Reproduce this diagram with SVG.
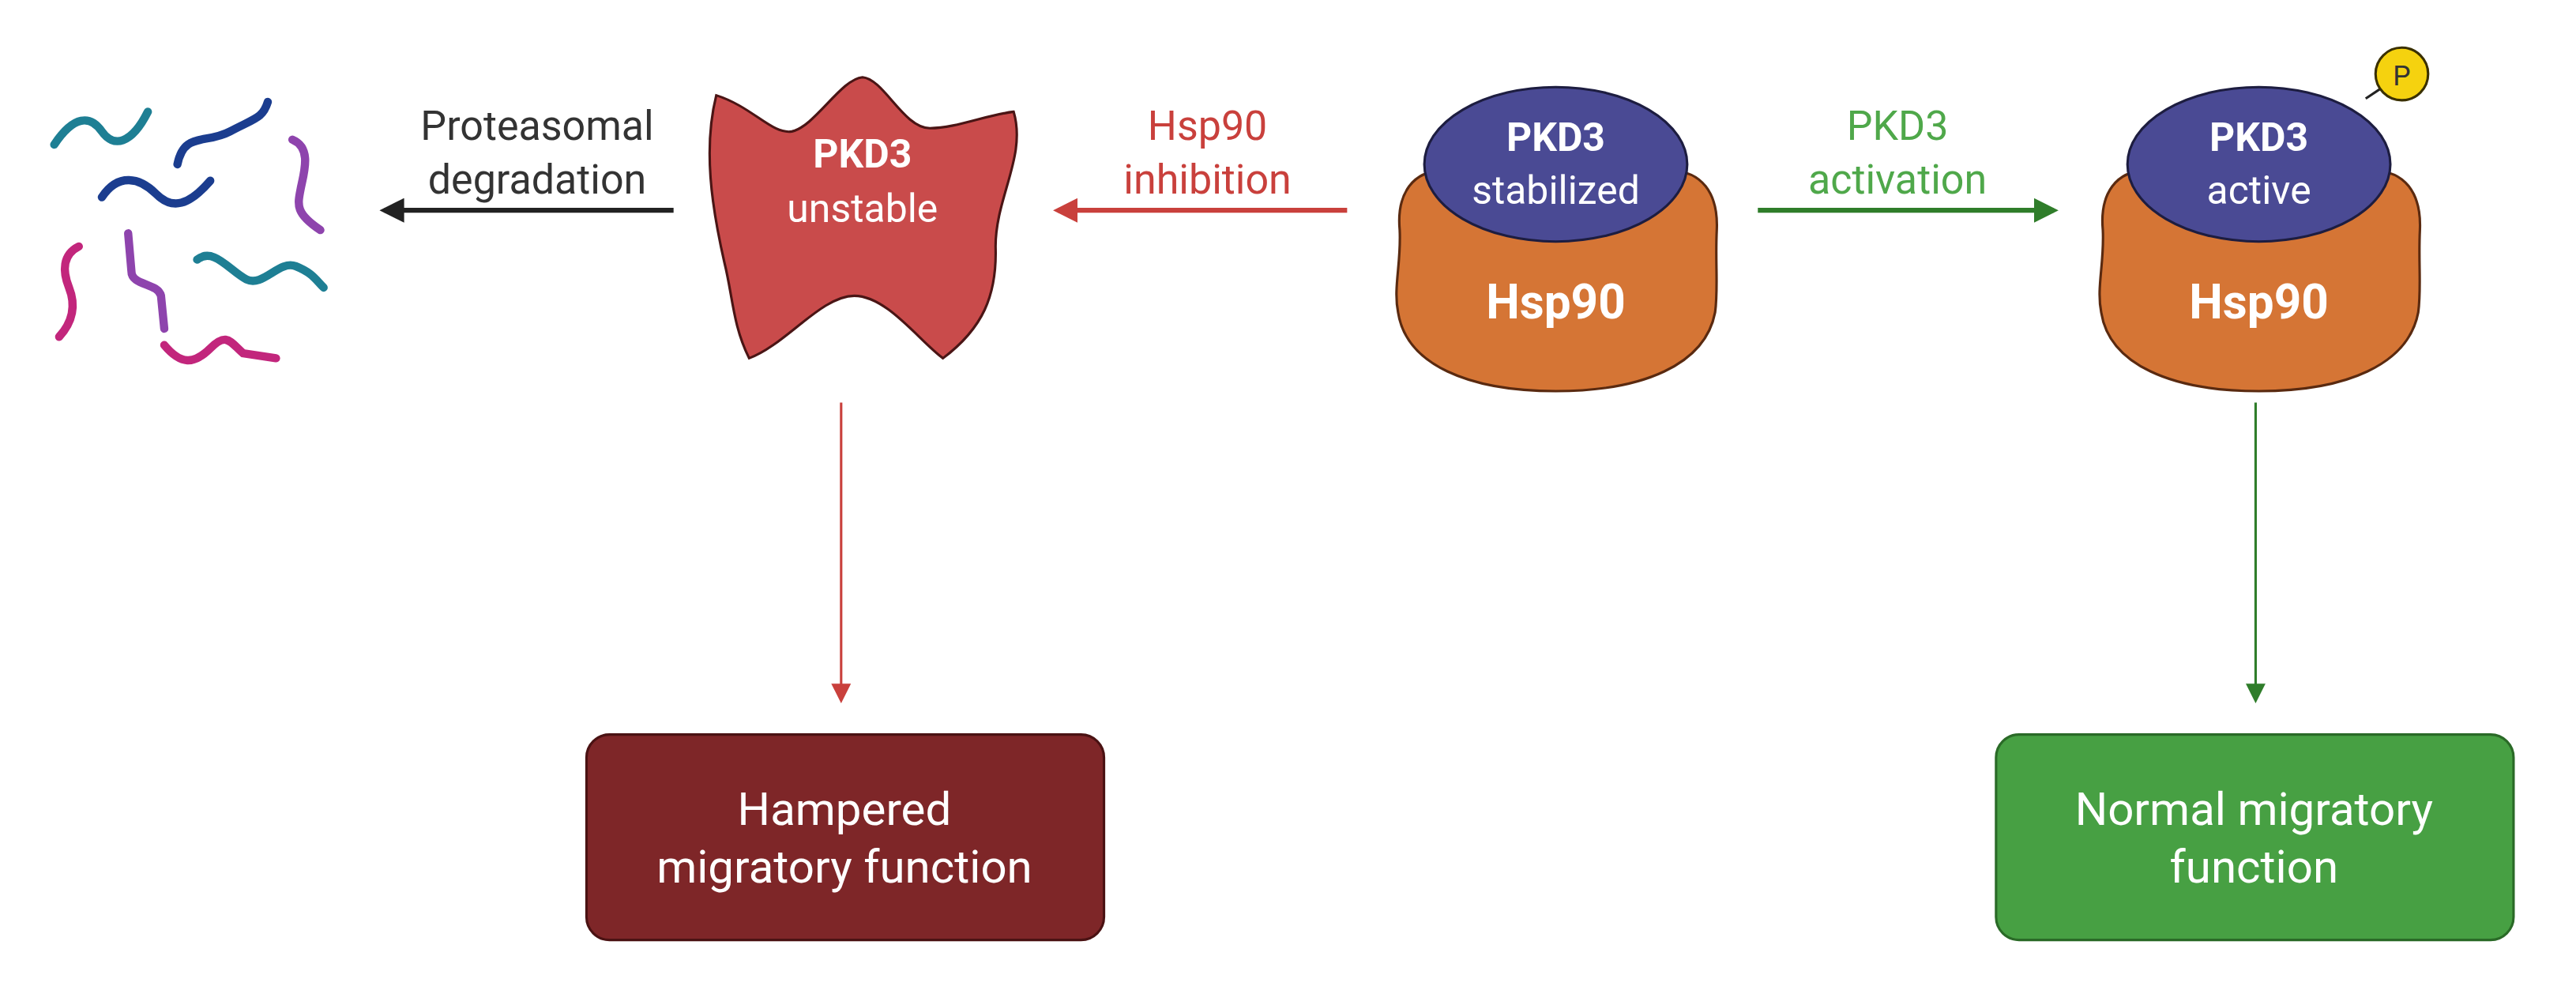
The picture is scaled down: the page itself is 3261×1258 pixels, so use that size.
<svg xmlns="http://www.w3.org/2000/svg" width="3261" height="1258" viewBox="0 0 3261 1258">
<defs>
<style>
text{font-family:Roboto,"Liberation Sans",sans-serif;text-anchor:middle}
.lbl{font-size:25px}
.w{fill:#fff}
.b{font-weight:bold}
.sq{fill:none;stroke-width:5;stroke-linecap:round}
.hsp{fill:#d57535;stroke:#5a2a10;stroke-width:1.5}
.pk{fill:#4a4a94;stroke:#1d1d40;stroke-width:1.5}
</style>
<marker id="ak" markerWidth="5" markerHeight="5" refX="4" refY="2.5" orient="auto" markerUnits="strokeWidth"><path d="M0,0L5,2.5L0,5z" fill="#222"/></marker>
<marker id="ar" markerWidth="5" markerHeight="5" refX="4" refY="2.5" orient="auto" markerUnits="strokeWidth"><path d="M0,0L5,2.5L0,5z" fill="#c9403c"/></marker>
<marker id="ag" markerWidth="5" markerHeight="5" refX="4" refY="2.5" orient="auto" markerUnits="strokeWidth"><path d="M0,0L5,2.5L0,5z" fill="#2f7d2a"/></marker>
<marker id="ar2" markerWidth="8" markerHeight="8" refX="6" refY="4" orient="auto" markerUnits="strokeWidth"><path d="M0,0L8,4L0,8z" fill="#c9403c"/></marker>
<marker id="ag2" markerWidth="8" markerHeight="8" refX="6" refY="4" orient="auto" markerUnits="strokeWidth"><path d="M0,0L8,4L0,8z" fill="#2f7d2a"/></marker>
</defs>
<rect width="3261" height="1258" fill="#fff"/>
<g transform="scale(2.0797)">
<g id="fragments">
<path class="sq" stroke="#1e7f94" d="M33,88 C45,70 55,70 62,80 S80,88 90,68"/>
<path class="sq" stroke="#1b3d8f" d="M108,100 C112,80 125,88 140,80 S160,72 163,62"/>
<path class="sq" stroke="#1b3d8f" d="M62,120 C72,105 85,108 95,118 S115,125 128,110"/>
<path class="sq" stroke="#8e44ad" d="M178,85 C190,90 185,105 183,115 S180,130 195,140"/>
<path class="sq" stroke="#c2267c" d="M48,150 C38,155 38,165 42,175 S45,195 36,205"/>
<path class="sq" stroke="#8e44ad" d="M78,142 L80,165 C80,174 96,172 98,180 L100,200"/>
<path class="sq" stroke="#1e7f94" d="M120,158 C130,150 140,165 150,170 S170,158 180,162 S192,170 197,175"/>
<path class="sq" stroke="#c2267c" d="M100,210 C110,222 118,222 128,212 S140,208 148,215 L168,218"/>
</g>
<g id="unstable">
<path fill="#c94b4b" stroke="#4a1515" stroke-width="1.5" d="M436,58 C458,65 470,82 482,80 C496,77 512,48 525,47 C538,48 550,78 566,78 C582,78 600,70 617,68 C625,95 606,120 606,150 C607,180 598,200 574,218 C560,208 540,180 520,180 C500,180 478,210 456,218 C446,198 446,180 441,160 C433,125 428,90 436,58 Z"/>
<text class="w b" x="525" y="102" font-size="24">PKD3</text>
<text class="w" x="525" y="135" font-size="24">unstable</text>
</g>
<g id="stabilized">
<path class="hsp" d="M852,140 C850,118 860,103 880,104 L1015,104 C1036,103 1046,118 1045,140 C1044,160 1046,175 1044,190 C1038,222 1000,238 947,238 C894,238 856,222 851,190 C848,175 853,160 852,140 Z"/>
<ellipse class="pk" cx="947" cy="100" rx="80" ry="47"/>
<text class="w b" x="947" y="92" font-size="24">PKD3</text>
<text class="w" x="947" y="124" font-size="24">stabilized</text>
<text class="w b" x="947" y="194" font-size="29">Hsp90</text>
</g>
<g id="active">
<line x1="1440" y1="60" x2="1452" y2="52" stroke="#222" stroke-width="1.5"/>
<circle cx="1462" cy="45" r="16" fill="#f5d20f" stroke="#3a3000" stroke-width="1.5"/>
<text x="1462" y="52" font-size="17" fill="#333">P</text>
<path class="hsp" d="M1280,140 C1278,118 1288,103 1308,104 L1443,104 C1464,103 1474,118 1473,140 C1472,160 1474,175 1472,190 C1466,222 1428,238 1375,238 C1322,238 1284,222 1279,190 C1276,175 1281,160 1280,140 Z"/>
<ellipse class="pk" cx="1375" cy="100" rx="80" ry="47"/>
<text class="w b" x="1375" y="92" font-size="24">PKD3</text>
<text class="w" x="1375" y="124" font-size="24">active</text>
<text class="w b" x="1375" y="194" font-size="29">Hsp90</text>
</g>
<g id="hampered">
<rect x="357" y="447" width="315" height="125" rx="14" fill="#7e2628" stroke="#4a1213" stroke-width="1.5"/>
<text class="w" x="514" y="502" font-size="28">Hampered</text>
<text class="w" x="514" y="537" font-size="28">migratory function</text>
</g>
<g id="normal">
<rect x="1215" y="447" width="315" height="125" rx="14" fill="#47a043" stroke="#2a6a27" stroke-width="1.5"/>
<text class="w" x="1372" y="502" font-size="28">Normal migratory</text>
<text class="w" x="1372" y="537" font-size="28">function</text>
</g>
<g id="connectors">
<line x1="410" y1="128" x2="234" y2="128" stroke="#222" stroke-width="3" marker-end="url(#ak)"/>
<line x1="820" y1="128" x2="644" y2="128" stroke="#c9403c" stroke-width="3" marker-end="url(#ar)"/>
<line x1="1070" y1="128" x2="1250" y2="128" stroke="#2f7d2a" stroke-width="3" marker-end="url(#ag)"/>
<line x1="512" y1="245" x2="512" y2="425" stroke="#c9403c" stroke-width="1.5" marker-end="url(#ar2)"/>
<line x1="1373" y1="245" x2="1373" y2="425" stroke="#2f7d2a" stroke-width="1.5" marker-end="url(#ag2)"/>
<text class="lbl" x="327" y="85" fill="#333">Proteasomal</text>
<text class="lbl" x="327" y="118" fill="#333">degradation</text>
<text class="lbl" x="735" y="85" fill="#c9403c">Hsp90</text>
<text class="lbl" x="735" y="118" fill="#c9403c">inhibition</text>
<text class="lbl" x="1155" y="85" fill="#4fa84a">PKD3</text>
<text class="lbl" x="1155" y="118" fill="#4fa84a">activation</text>
</g>
</g>
</svg>
